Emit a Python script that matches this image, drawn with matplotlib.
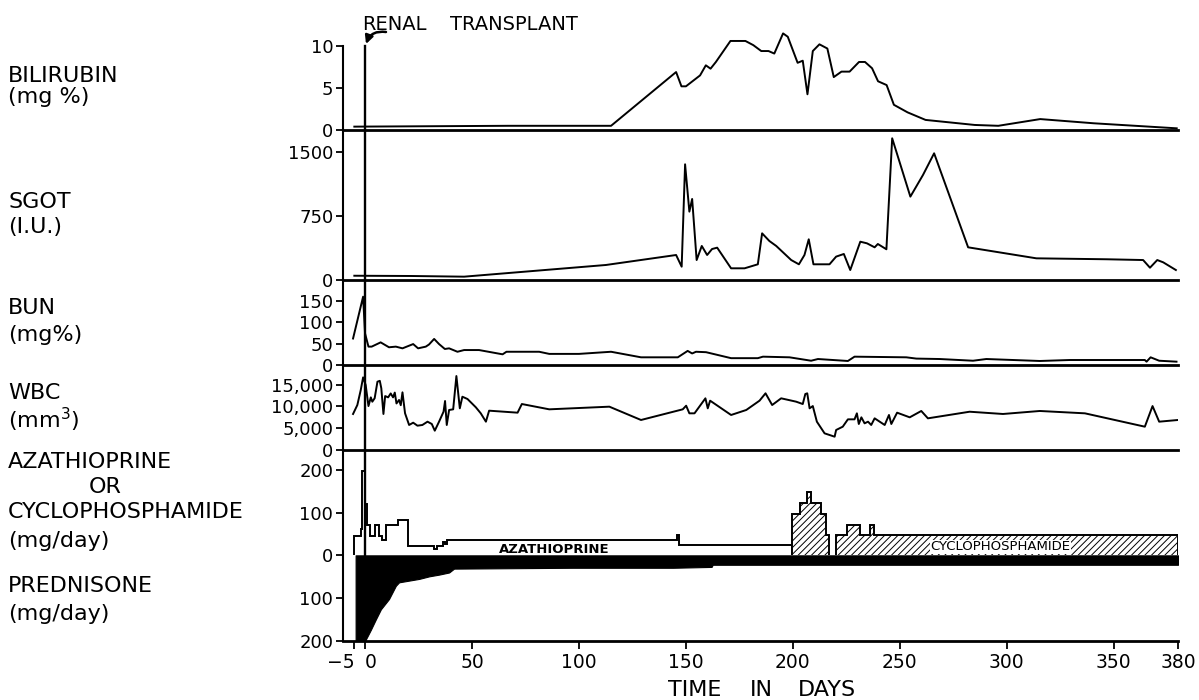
import matplotlib
matplotlib.use("Agg")
import matplotlib.pyplot as plt
from matplotlib.patches import FancyArrowPatch
from matplotlib.ticker import FuncFormatter

# ---------------- data ----------------
bili_days = [-5, 67, 115, 145.4, 147.9, 150, 156.6, 159.3, 161.5, 164, 170.8, 177.8, 181.5, 185.2,
             188.6, 191.3, 195.4, 197.6, 202.2, 204.6, 206.8, 209.3, 212.4, 216.1, 219.1, 222.7,
             226.5, 230.9, 233.7, 237, 239.8, 243.8, 247.2, 253.6, 262, 285, 296, 315.6, 340.6, 379.4]
bili_vals = [0.4, 0.5, 0.5, 6.9, 5.2, 5.2, 6.5, 7.7, 7.3, 8.1, 10.6, 10.6, 10.1, 9.4,
             9.4, 9.1, 11.5, 11.1, 8.0, 8.25, 4.25, 9.4, 10.2, 9.7, 6.3, 6.95,
             6.95, 8.1, 8.1, 7.35, 5.8, 5.35, 3.0, 2.1, 1.2, 0.6, 0.5, 1.3, 0.8, 0.2]

sgot_days = [-5, 21.4, 46.3, 112.6, 145.4, 148, 149.6, 151.6, 152.9, 155, 157.4, 159.9, 162.2,
             164.6, 171.1, 177.4, 183.6, 185.6, 189, 192.2, 199.2, 202.8, 205.4, 207.4, 209.6,
             217.1, 220.2, 223.8, 226.8, 231.5, 234.6, 238.2, 239.7, 243.7, 246.4, 254.9, 260.8,
             266, 281.9, 313.8, 346.6, 363.7, 366.9, 370.3, 373.1, 379]
sgot_vals = [50, 47, 39, 176, 293, 156, 1356, 801, 950, 234, 399, 293, 363,
             379, 137, 137, 184, 547, 457, 399, 234, 184, 293, 477, 184,
             184, 274, 305, 117, 449, 430, 383, 422, 360, 1661, 977, 1231,
             1485, 383, 254, 243, 234, 144, 234, 207, 117]

bun_days = [-5.6, -0.9, 0, 1.6, 3.1, 7.3, 11.2, 14.4, 17.5, 22.5, 24.8, 28.4, 29.9, 32.3, 34.6,
            37.3, 39.3, 43.2, 46.3, 53.3, 64.3, 66.1, 81.4, 86.1, 100, 115, 129, 146.2, 150.8,
            152.9, 154.7, 159.4, 171.1, 183.6, 186, 198.4, 208.5, 211.7, 225.7, 228.8, 253,
            257.7, 268.6, 284.2, 290.4, 315.4, 329.4, 364.5, 365.3, 367.2, 371.2, 379.3]
bun_vals = [62, 160, 74, 43, 43, 53, 41.5, 43, 39, 49, 39, 43, 48, 61, 49,
            37.5, 39, 31, 35, 35, 25, 31, 31, 26, 26, 31, 18, 18, 33,
            27, 31, 30, 16, 16, 19.5, 18, 10, 14, 9.4, 19.5, 18,
            15, 14, 10, 14, 9.4, 11.7, 11.7, 7.8, 18, 10, 7.8]

wbc_days = [-5.6, -3.6, -2, -0.9, 0.3, 1.6, 2.7, 3.4, 4.5, 5.8, 6.9, 7.6, 8.6, 9.4, 10.8, 12,
            13.1, 13.9, 14.7, 15.9, 16.7, 17.5, 18.7, 20.6, 22.5, 24.5, 26.8, 29.2, 31.2, 32.6,
            34.6, 36.7, 37.4, 38.2, 39.3, 41.2, 42.7, 44.3, 45.5, 47.9, 51.8, 54.1, 56.5, 58,
            71.3, 73.3, 86.1, 114.2, 129, 148.5, 150.1, 151.6, 154, 159.1, 160.2, 161.3, 171.1,
            178.2, 184.4, 187.2, 190.3, 194.5, 201.5, 204.6, 205.8, 206.7, 207.8, 209.3, 211.2,
            214.8, 219.5, 220.2, 223.3, 225.7, 228.8, 229.9, 230.8, 232, 233.5, 235.1, 236.6,
            238.2, 242.9, 244.9, 246, 248.7, 254.6, 260, 263.1, 282.6, 298.2, 315.4, 336.5,
            364.5, 368.1, 371.2, 380]
wbc_vals = [8280, 10340, 13800, 16700, 14940, 10100, 12100, 11100, 11900, 15700, 15900, 14200,
            8280, 12400, 12100, 13000, 12100, 13200, 10700, 11500, 10300, 13260, 8440, 5750,
            6280, 5590, 5750, 6510, 5980, 4440, 6510, 8810, 11260, 5750, 9200, 9350, 17000,
            9580, 12250, 11720, 9810, 8430, 6510, 9040, 8580, 10570, 9350, 9960, 6900, 9350,
            10180, 8430, 8430, 11880, 9580, 11340, 8050, 9200, 11340, 13030, 10340, 11880,
            11110, 10570, 12870, 13030, 9580, 10100, 6510, 3830, 3060, 4600, 5360, 7050, 7050,
            8430, 5980, 7510, 6130, 6510, 5750, 7280, 5750, 8050, 5980, 8580, 7510, 8970, 7280,
            8800, 8280, 8970, 8430, 5360, 10100, 6510, 6900]

aza_edges = [-5.1, -2.0, -1.2, -0.2, 1.1, 2.3, 4.7, 6.6, 7.8, 9.7, 15.6, 20.3, 32.3, 33.8,
             36.5, 37.4, 38.5, 145.7, 146.9, 199.7]
aza_vals = [45, 62, 196, 121, 70, 45, 70, 45, 35, 70, 83, 22, 14, 22, 31, 27, 37, 48, 24]

cyc1_edges = [199.7, 203.5, 206.8, 208.5, 212.9, 215.5, 217.0]
cyc1_vals = [97, 123, 147, 123, 97, 47]
cyc2_edges = [220.0, 225.5, 231.4, 236.2, 237.7, 380]
cyc2_vals = [48, 71, 48, 71, 48]

pred_days = [-4.4, 0, 2.7, 5, 7.4, 11.2, 14.4, 15.9, 20.6, 25.3, 30, 34.6, 39.3, 41.6, 97,
             144, 162, 162.5, 380]
pred_vals = [200, 200, 174, 150, 126, 102, 71, 63, 59, 55, 49, 45, 40, 31, 29, 29, 27, 22, 22]

xticks = [-5, 0, 50, 100, 150, 200, 250, 300, 350, 380]
xticklabels = ["\u22125", "0", "50", "100", "150", "200", "250", "300", "350", "380"]

# ---------------- layout ----------------
W_PX, H_PX = 1199, 700
fig = plt.figure(figsize=(W_PX / 100, H_PX / 100), dpi=100)
L = 343 / W_PX
AW = (1178 - 343) / W_PX
plt.rcParams["hatch.linewidth"] = 0.7


def make_ax(top, bottom):
    return fig.add_axes([L, 1 - bottom / H_PX, AW, (bottom - top) / H_PX], facecolor="none")


ax_b = make_ax(30, 130)
ax_s = make_ax(130, 280)
ax_u = make_ax(280, 365)
ax_w = make_ax(365, 450)
ax_d = make_ax(450, 641)

XL = (-10.3, 380)
LW = 1.4
for ax in (ax_b, ax_s, ax_u, ax_w, ax_d):
    ax.set_xlim(*XL)
    ax.spines["top"].set_visible(False)
    ax.spines["right"].set_visible(False)
    ax.spines["left"].set_linewidth(1.5)
    ax.spines["bottom"].set_linewidth(2.0)
    ax.tick_params(axis="y", direction="out", length=5, width=1.3, labelsize=13, pad=2)
    if ax is ax_b:
        ax.axvline(0, ymin=0, ymax=10 / (100 / 8.4), color="black", lw=1.7, zorder=1)
    else:
        ax.axvline(0, color="black", lw=1.7, zorder=1)
    if ax is not ax_d:
        ax.tick_params(axis="x", bottom=False, labelbottom=False)

# Bilirubin
ax_b.set_ylim(0, 100 / 8.4)
ax_b.spines["left"].set_bounds(0, 10)
ax_b.set_yticks([0, 5, 10])
ax_b.plot(bili_days, bili_vals, color="black", lw=LW, clip_on=False)

# SGOT
ax_s.set_ylim(0, 1758)
ax_s.set_yticks([0, 750, 1500])
ax_s.plot(sgot_days, sgot_vals, color="black", lw=LW)

# BUN
ax_u.set_ylim(0, 199)
ax_u.set_yticks([0, 50, 100, 150])
ax_u.plot(bun_days, bun_vals, color="black", lw=LW)

# WBC
ax_w.set_ylim(0, 19540)
ax_w.set_yticks([0, 5000, 10000, 15000])
ax_w.yaxis.set_major_formatter(FuncFormatter(lambda v, p: f"{v:,.0f}"))
ax_w.plot(wbc_days, wbc_vals, color="black", lw=LW)

# Drugs
ax_d.set_ylim(-200, 246)
ax_d.set_yticks([-200, -100, 0, 100, 200])
ax_d.yaxis.set_major_formatter(FuncFormatter(lambda v, p: f"{abs(v):.0f}"))
ax_d.fill_between(pred_days, [-v for v in pred_vals], 0,
                  facecolor="black", edgecolor="black", lw=0.8, zorder=2)
ax_d.stairs(aza_vals, aza_edges, baseline=0, fill=False, color="black", lw=1.4, zorder=3)
for e, v in ((cyc1_edges, cyc1_vals), (cyc2_edges, cyc2_vals)):
    ax_d.stairs(v, e, baseline=0, fill=True, facecolor="white", edgecolor="black",
                hatch="/////", lw=1.4, zorder=3)
ax_d.text(88.3, 12.6, "AZATHIOPRINE", ha="center", va="center", fontsize=9.5,
          fontweight="bold", zorder=4)
ax_d.text(297, 20, "CYCLOPHOSPHAMIDE", ha="center", va="center", fontsize=9.5, zorder=4,
          bbox=dict(facecolor="white", edgecolor="none", pad=0.3))
ax_d.set_xticks(xticks)
ax_d.set_xticklabels(xticklabels)
ax_d.tick_params(axis="x", direction="out", length=6, width=1.3, labelsize=13.5, pad=3)
tl = ax_d.get_xticklabels()
tl[0].set_ha("right")
tl[1].set_ha("left")

# x-axis title
for word, xc in (("TIME", 695), ("IN", 761), ("DAYS", 827)):
    fig.text(xc / W_PX, 1 - 690 / H_PX, word, ha="center", va="center", fontsize=16)

# Renal transplant annotation
fig.text(362 / W_PX, 1 - 24.5 / H_PX, "RENAL", ha="left", va="center", fontsize=14)
fig.text(450 / W_PX, 1 - 24.5 / H_PX, "TRANSPLANT", ha="left", va="center", fontsize=14)
fig.add_artist(FancyArrowPatch(
    posA=(386, H_PX - 32), posB=(366, H_PX - 44), transform=None,
    connectionstyle="arc3,rad=0.4", arrowstyle="-|>", mutation_scale=12,
    lw=1.8, color="black", shrinkA=0, shrinkB=0))

# Left-hand labels
FS = 16
labels = [
    ("BILIRUBIN", 76), ("(mg %)", 97),
    ("SGOT", 202), ("(I.U.)", 227),
    ("BUN", 308), ("(mg%)", 335),
    ("WBC", 393), ("(mm$^{3}$)", 420),
    ("AZATHIOPRINE", 462), ("CYCLOPHOSPHAMIDE", 512), ("(mg/day)", 541),
    ("PREDNISONE", 586), ("(mg/day)", 614),
]
for txt, yp in labels:
    fig.text(8 / W_PX, 1 - yp / H_PX, txt, ha="left", va="center", fontsize=FS)
fig.text(105 / W_PX, 1 - 487 / H_PX, "OR", ha="center", va="center", fontsize=FS)

fig.savefig("out.png", dpi=100, facecolor="white")
